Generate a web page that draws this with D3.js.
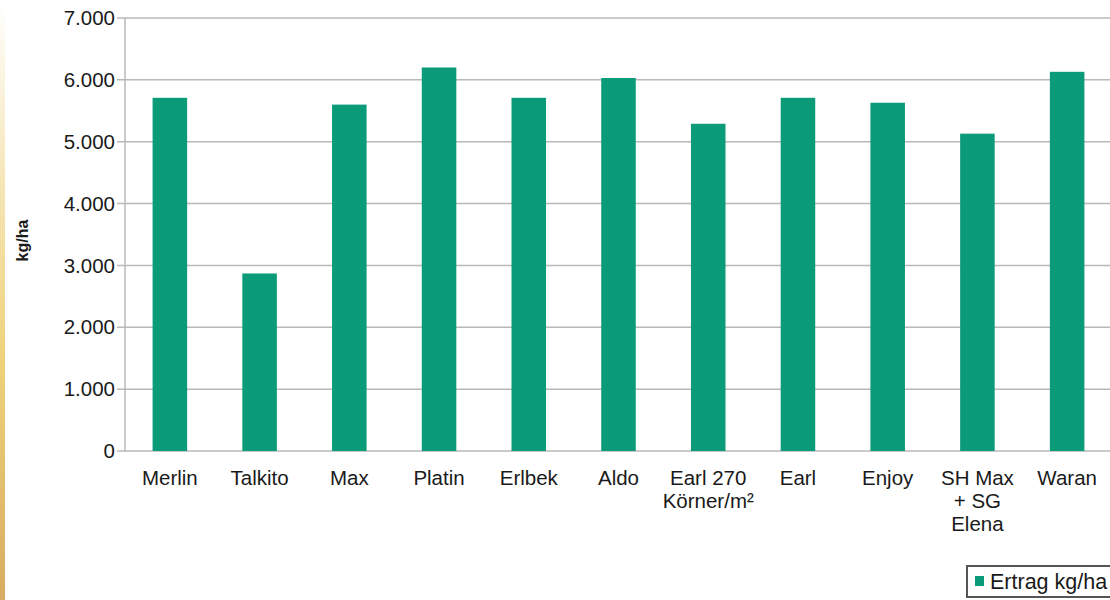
<!DOCTYPE html>
<html>
<head>
<meta charset="utf-8">
<script src="https://cdn.jsdelivr.net/npm/d3@7"></script>
<style>
  html, body { margin: 0; padding: 0; background: #fff; }
  svg { display: block; }
  text { font-family: "Liberation Sans", Arial, Helvetica, sans-serif; fill: #1a1a1a; }
</style>
</head>
<body>
<svg id="chart" width="1110" height="600"></svg>
<script>
const categories = ["Merlin", "Talkito", "Max", "Platin", "Erlbek", "Aldo", "Earl 270\nKörner/m²", "Earl", "Enjoy", "SH Max\n+ SG\nElena", "Waran"];
const ertrag = [5710, 2870, 5600, 6200, 5710, 6030, 5290, 5710, 5630, 5130, 6130];
const yTicks = [0, 1000, 2000, 3000, 4000, 5000, 6000, 7000];
const seriesName = "Ertrag kg/ha";
const yTitle = "kg/ha";

(function() {
const svg = d3.select("#chart");
const W = 1110, H = 600;
const mLeft = 125, mRight = 1112, mTop = 18, mBottom = 451;
const green = "#0c9b78";

// decorative left strip
const defs = svg.append("defs");
const lg = defs.append("linearGradient").attr("id", "strip").attr("x1", 0).attr("y1", 0).attr("x2", 0).attr("y2", 1);
lg.append("stop").attr("offset", "0%").attr("stop-color", "#ffffff");
lg.append("stop").attr("offset", "30%").attr("stop-color", "#f6e6b8");
lg.append("stop").attr("offset", "60%").attr("stop-color", "#efd27a");
lg.append("stop").attr("offset", "100%").attr("stop-color", "#d8ac62");
svg.append("rect").attr("x", 0).attr("y", 0).attr("width", 5).attr("height", H).attr("fill", "url(#strip)");

const x = d3.scaleBand().domain(categories).range([mLeft, mRight]).paddingInner(0.615).paddingOuter(0.3075);
const y = d3.scaleLinear().domain([0, 7000]).range([mBottom, mTop]);
const loc = d3.formatLocale({ decimal: ",", thousands: ".", grouping: [3], currency: ["", ""] });
const fmt = loc.format(",");

// gridlines
svg.append("g").selectAll("line").data(yTicks).join("line")
  .attr("x1", mLeft - 8).attr("x2", W)
  .attr("y1", d => y(d)).attr("y2", d => y(d))
  .attr("stroke", "#b8b8b8").attr("stroke-width", 1.5);

// y axis line
svg.append("line").attr("x1", mLeft).attr("x2", mLeft).attr("y1", mTop).attr("y2", mBottom)
  .attr("stroke", "#b8b8b8").attr("stroke-width", 1.5);

// y tick labels
svg.append("g").selectAll("text").data(yTicks).join("text")
  .attr("x", mLeft - 10).attr("y", d => y(d)).attr("dy", "0.35em")
  .attr("text-anchor", "end").attr("font-size", 20.5)
  .text(d => fmt(d));

// y title
svg.append("text").attr("transform", `translate(28,${(mTop + mBottom) / 2 + 6}) rotate(-90)`)
  .attr("text-anchor", "middle").attr("font-size", 16).attr("font-weight", "bold")
  .text(yTitle);

// bars
svg.append("g").selectAll("rect").data(ertrag).join("rect")
  .attr("x", (d, i) => x(categories[i]))
  .attr("width", x.bandwidth())
  .attr("y", d => y(d))
  .attr("height", d => mBottom - y(d))
  .attr("fill", green);

// x labels
const xl = svg.append("g").selectAll("text").data(categories).join("text")
  .attr("x", d => x(d) + x.bandwidth() / 2)
  .attr("y", 485)
  .attr("text-anchor", "middle").attr("font-size", 20.5);
xl.each(function(d) {
  const t = d3.select(this);
  d.split("\n").forEach((line, i) => {
    t.append("tspan").attr("x", x(d) + x.bandwidth() / 2).attr("dy", i === 0 ? 0 : 23).text(line);
  });
});

// legend
const lgG = svg.append("g");
lgG.append("rect").attr("x", 967).attr("y", 566).attr("width", 160).attr("height", 31)
  .attr("fill", "#fff").attr("stroke", "#555").attr("stroke-width", 2);
lgG.append("rect").attr("x", 975).attr("y", 576).attr("width", 9).attr("height", 10).attr("fill", green);
lgG.append("text").attr("x", 990).attr("y", 589).attr("font-size", 21.5).text(seriesName);
})();
</script>
</body>
</html>
